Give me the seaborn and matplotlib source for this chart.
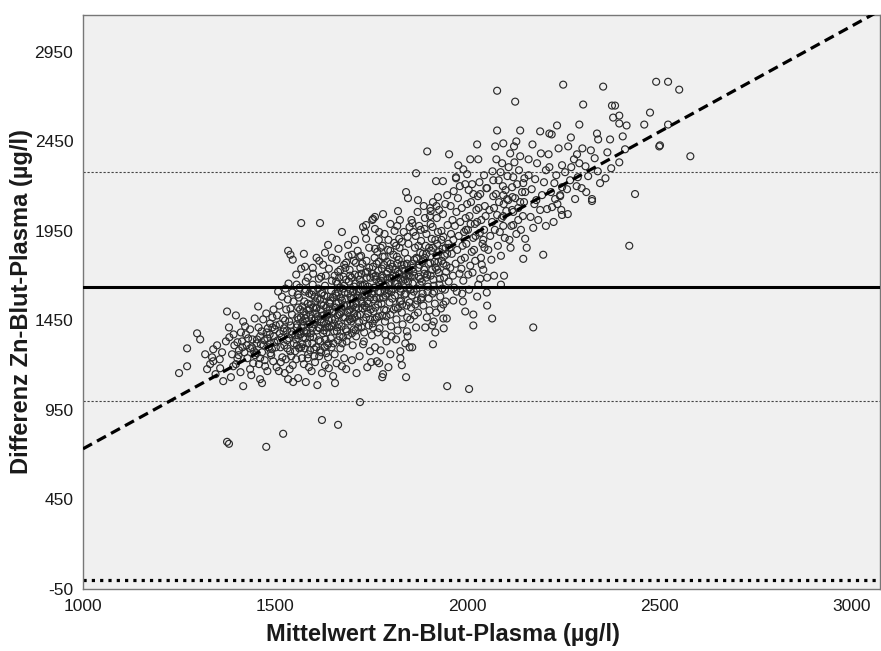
import numpy as np
import pandas as pd
import matplotlib
matplotlib.use("Agg")
import matplotlib.pyplot as plt
import seaborn as sns

# ---- data (mean, difference) ----
left_tail = [(1250,1156),(1271,1194),(1271,1294),(1297,1378),(1305,1344),(1323,1178),(1336,1244),(1339,1289),(1339,1222),(1331,1206),
 (1372,1333),(1375,1500),(1398,1478),(1388,1261),(1391,1194),(1398,1206),(1406,1283),(1414,1333),(1424,1372),(1422,1417),
 (1417,1444),(1365,1111),(1385,1133),(1417,1083),(1435,1178),(1435,1294),(1445,1278),(1435,1400),(1356,1233),(1362,1272),
 (1349,1311),(1318,1261),(1381,1356),(1394,1311),(1402,1239),(1410,1161),(1428,1239),(1441,1344),(1447,1461),(1426,1311),
 (1380,1411),(1357,1183),(1345,1150),(1392,1372),(1411,1383),(1443,1211),(1438,1144),(1420,1272),(1402,1328),(1448,1256)]

band_1450_1550 = [(1456,1528),(1477,1489),(1453,1344),(1461,1361),(1461,1239),(1474,1194),(1466,1272),(1461,1122),(1466,1100),(1487,1433),
 (1487,1322),(1495,1222),(1508,1611),(1534,1122),(1547,1106),(1457,1411),(1469,1456),(1478,1383),(1483,1300),(1490,1256),
 (1497,1361),(1502,1422),(1505,1478),(1511,1533),(1514,1300),(1519,1244),(1522,1389),(1526,1450),(1529,1511),(1533,1567),
 (1536,1350),(1539,1278),(1541,1422),(1544,1483),(1546,1200),(1549,1322),(1452,1267),(1463,1317),(1472,1339),(1481,1406),
 (1486,1372),(1493,1467),(1499,1400),(1504,1189),(1507,1339),(1512,1428),(1517,1356),(1521,1461),(1524,1311),(1528,1233),
 (1531,1394),(1537,1444),(1540,1517),(1543,1389),(1548,1556),(1518,1583),(1527,1628),(1535,1656),(1545,1606),(1496,1511),
 (1480,1167),(1510,1167),(1525,1156),(1542,1250),(1532,1294),(1473,1228),(1458,1206),(1492,1289),(1515,1217),(1538,1178)]

band_1550_1650 = [(1568,1994),(1617,1994),(1534,1839),(1540,1817),(1546,1789),(1575,1822),(1568,1739),(1578,1750),(1599,1711),(1615,1783),
 (1625,1761),(1638,1872),(1552,1278),(1554,1344),(1556,1411),(1558,1467),(1560,1522),(1562,1578),(1564,1633),(1566,1372),
 (1568,1300),(1570,1239),(1572,1444),(1574,1500),(1576,1556),(1578,1611),(1580,1667),(1582,1394),(1584,1322),(1586,1261),
 (1588,1189),(1590,1428),(1592,1483),(1594,1539),(1596,1594),(1598,1650),(1600,1356),(1602,1289),(1604,1217),(1606,1461),
 (1608,1517),(1610,1572),(1612,1628),(1614,1683),(1616,1406),(1618,1333),(1620,1272),(1622,1156),(1624,1478),(1626,1533),
 (1628,1589),(1630,1644),(1632,1700),(1634,1383),(1636,1311),(1638,1244),(1640,1450),(1642,1506),(1644,1561),(1646,1617),
 (1648,1672),(1553,1367),(1557,1311),(1561,1456),(1565,1511),(1569,1411),(1573,1356),(1577,1294),(1581,1483),(1585,1544),
 (1589,1600),(1593,1378),(1597,1322),(1601,1428),(1605,1489),(1609,1394),(1613,1339),(1617,1567),(1621,1439),(1625,1378),
 (1629,1300),(1633,1522),(1637,1583),(1641,1411),(1645,1350),(1649,1494),(1555,1233),(1559,1594),(1563,1389),(1567,1467),
 (1571,1528),(1575,1422),(1579,1350),(1583,1444),(1587,1506),(1591,1283),(1595,1461),(1599,1522),(1603,1583),(1607,1300),
 (1611,1472),(1615,1250),(1619,1511),(1623,1606),(1627,1439),(1631,1344),(1635,1478),(1639,1322),(1643,1544),(1647,1417),
 (1560,1128),(1580,1106),(1610,1089),(1640,1183),(1595,1167),(1575,1206),(1630,1200),(1651,1139),(1598,1744),(1640,1739),
 (1620,1694),(1585,1689),(1556,1650),(1648,1800),(1630,1828),(1608,1800),(1555,1706)]

band_1650_1750 = [(1652,1322),(1654,1389),(1656,1456),(1658,1522),(1660,1589),(1662,1656),(1664,1722),(1666,1428),(1668,1361),(1670,1294),
 (1672,1494),(1674,1561),(1676,1628),(1678,1694),(1680,1761),(1682,1467),(1684,1400),(1686,1333),(1688,1533),(1690,1600),
 (1692,1667),(1694,1733),(1696,1511),(1698,1444),(1700,1378),(1702,1311),(1704,1572),(1706,1639),(1708,1706),(1710,1772),
 (1712,1544),(1714,1478),(1716,1411),(1718,1611),(1720,1678),(1722,1744),(1724,1811),(1726,1583),(1728,1517),(1730,1450),
 (1732,1383),(1734,1650),(1736,1717),(1738,1783),(1740,1556),(1742,1489),(1744,1422),(1746,1622),(1748,1689),(1653,1500),
 (1657,1600),(1661,1389),(1665,1550),(1669,1633),(1673,1417),(1677,1356),(1681,1606),(1685,1678),(1689,1444),(1693,1506),
 (1697,1578),(1701,1461),(1705,1400),(1709,1522),(1713,1611),(1717,1700),(1721,1483),(1725,1556),(1729,1644),(1733,1533),
 (1737,1467),(1741,1600),(1745,1744),(1749,1511),(1655,1261),(1659,1667),(1663,1478),(1667,1689),(1671,1578),(1675,1322),
 (1679,1533),(1683,1744),(1687,1389),(1691,1811),(1695,1622),(1699,1689),(1703,1533),(1707,1467),(1711,1361),(1715,1589),
 (1719,1439),(1723,1622),(1727,1767),(1731,1333),(1735,1594),(1739,1689),(1743,1544),(1747,1456),(1674,1944),(1708,1900),
 (1734,1944),(1737,1983),(1737,1906),(1729,1972),(1674,1194),(1729,1317),(1747,1278),(1700,1228),(1720,1250),(1680,1239),
 (1665,1850),(1690,1872),(1715,1839),(1745,1856),(1660,1789),(1700,1817),(1750,1217),(1685,1178),(1712,1156),(1740,1189),
 (1660,1211)]

band_1750_1850 = [(1753,2011),(1760,2028),(1781,2044),(1771,1944),(1755,2017),(1781,1150),(1771,1211),(1841,1133),(1826,1239),(1839,1322),
 (1826,1278),(1820,2061),(1841,2167),(1846,2133),(1818,1978),(1800,1989),(1752,1367),(1754,1433),(1756,1500),(1758,1567),
 (1760,1633),(1762,1700),(1764,1767),(1766,1833),(1768,1539),(1770,1472),(1772,1406),(1774,1606),(1776,1672),(1778,1739),
 (1780,1806),(1782,1578),(1784,1511),(1786,1444),(1788,1644),(1790,1711),(1792,1778),(1794,1844),(1796,1617),(1798,1550),
 (1800,1483),(1802,1417),(1804,1683),(1806,1750),(1808,1817),(1810,1883),(1812,1589),(1814,1522),(1816,1456),(1818,1656),
 (1820,1722),(1822,1789),(1824,1856),(1826,1628),(1828,1561),(1830,1494),(1832,1428),(1834,1694),(1836,1761),(1838,1828),
 (1840,1600),(1842,1533),(1844,1467),(1846,1667),(1848,1733),(1753,1600),(1757,1694),(1761,1522),(1765,1467),(1769,1728),
 (1773,1650),(1777,1544),(1781,1689),(1785,1617),(1789,1506),(1793,1722),(1797,1661),(1801,1767),(1805,1572),(1809,1511),
 (1813,1733),(1817,1806),(1821,1639),(1825,1556),(1829,1761),(1833,1672),(1837,1594),(1841,1700),(1845,1794),(1849,1633),
 (1755,1411),(1759,1800),(1763,1578),(1767,1383),(1771,1661),(1775,1856),(1779,1478),(1783,1761),(1787,1372),(1791,1600),
 (1795,1900),(1799,1689),(1803,1361),(1807,1628),(1811,1950),(1815,1700),(1819,1394),(1823,1906),(1827,1683),(1831,1539),
 (1835,1944),(1839,1728),(1843,1389),(1847,1878),(1760,1300),(1790,1333),(1815,1344),(1845,1361),(1775,1283),(1800,1261),
 (1850,1300),(1830,1200),(1795,1189),(1765,1222),(1770,1900),(1785,1933),(1825,2011),(1850,1972),(1760,1961)]

band_1850_1950 = [(1857,1994),(1872,2122),(1867,2272),(1896,2394),(1919,2228),(1937,2228),(1924,2139),(1904,2078),(1948,2150),(1857,1300),
 (1911,1317),(1917,1383),(1909,1422),(1938,1461),(1947,1461),(1938,1539),(1852,1456),(1854,1522),(1856,1589),(1858,1656),
 (1860,1722),(1862,1789),(1864,1856),(1866,1922),(1868,1628),(1870,1561),(1872,1494),(1874,1694),(1876,1761),(1878,1828),
 (1880,1894),(1882,1667),(1884,1600),(1886,1533),(1888,1733),(1890,1800),(1892,1867),(1894,1933),(1896,1706),(1898,1639),
 (1900,1572),(1902,1506),(1904,1772),(1906,1839),(1908,1906),(1910,1972),(1912,1678),(1914,1611),(1916,1544),(1918,1744),
 (1920,1811),(1922,1878),(1924,1944),(1926,1717),(1928,1650),(1930,1583),(1932,1517),(1934,1783),(1936,1850),(1938,1917),
 (1940,1689),(1942,1622),(1944,1556),(1946,1756),(1948,1822),(1853,1694),(1857,1767),(1861,1611),(1865,1539),(1869,1794),
 (1873,1867),(1877,1650),(1881,1578),(1885,1822),(1889,1961),(1893,1689),(1897,1611),(1901,1856),(1905,1989),(1909,1733),
 (1913,1644),(1917,1900),(1921,2022),(1925,1778),(1929,1683),(1933,1950),(1937,2044),(1941,1811),(1945,1722),(1949,1983),
 (1855,2011),(1863,1478),(1871,2056),(1879,1956),(1887,2089),(1895,1467),(1903,2033),(1911,2111),(1919,1494),(1927,2067),
 (1935,1628),(1943,2100),(1951,1878),(1867,1411),(1891,1411),(1913,1444),(1939,1406)]

band_1950_2050 = [(1953,2378),(1977,2317),(1990,2294),(2000,2267),(2008,2350),(2029,2350),(2026,2433),(1971,2250),(1971,2244),(1995,2211),
 (2044,2261),(2016,2156),(1987,1600),(2026,1583),(1995,1500),(2016,1483),(2016,1422),(1964,1561),(2003,1706),(2034,1683),
 (2042,1733),(1952,1667),(1956,1744),(1960,1822),(1964,1900),(1968,1978),(1972,2056),(1976,2133),(1980,1711),(1984,1789),
 (1988,1867),(1992,1944),(1996,2022),(2000,2100),(2004,2178),(2008,1756),(2012,1833),(2016,1911),(2020,1989),(2024,2067),
 (2028,2144),(2032,2222),(2036,1800),(2040,1878),(2044,1956),(2048,2033),(1954,1856),(1958,1933),(1962,2011),(1966,1633),
 (1970,1767),(1974,1844),(1978,1922),(1982,2000),(1986,2078),(1990,1672),(1994,1800),(1998,1878),(2002,1956),(2006,2033),
 (2010,2111),(2014,1717),(2018,1844),(2022,1922),(2026,2000),(2030,2078),(2034,2156),(2038,1761),(2042,1900),(2046,2089),
 (2050,2189),(1957,2089),(1965,2172),(1973,1611),(1981,2200),(1989,1556),(1997,1956),(2005,1622),(2013,2211),(2021,1783),
 (2029,1650),(2037,2011),(2045,1856),(1963,1700),(1985,1739),(2009,1989),(2033,1939)]

band_2050_2150 = [(2052,1689),(2065,1461),(2052,1533),(2073,2422),(2094,2439),(2078,2511),(2078,2733),(2125,2672),(2128,2450),(2122,2422),
 (2138,2511),(2076,2350),(2091,2328),(2052,2189),(2068,2233),(2082,2233),(2094,2150),(2120,2250),(2117,2194),(2146,2217),
 (2104,2128),(2107,2122),(2117,2067),(2133,2011),(2094,2033),(2094,1978),(2120,1983),(2096,1700),(2146,1794),(2138,2111),
 (2051,1606),(2070,1700),(2088,1650),(2055,1844),(2060,1922),(2065,2000),(2070,2078),(2075,2156),(2080,1867),(2085,1944),
 (2090,2022),(2095,2100),(2100,2178),(2105,2256),(2110,1900),(2115,1978),(2120,2056),(2125,2133),(2130,2211),(2135,2289),
 (2140,1956),(2145,2033),(2148,2111),(2058,2067),(2063,1789),(2068,2144),(2072,1956),(2078,2039),(2083,2111),(2088,1811),
 (2093,2200),(2098,1911),(2102,2061),(2108,2306),(2113,1856),(2118,2139),(2123,2333),(2128,1933),(2133,2078),(2138,2367),
 (2143,2167),(2149,2244),(2087,2278),(2112,2383),(2066,2283)]

band_2150_2350 = [(2151,1906),(2172,1967),(2172,1411),(2198,1817),(2190,2067),(2208,2072),(2221,2083),(2229,2128),(2242,2144),(2247,2039),
 (2190,2506),(2214,2494),(2220,2489),(2234,2539),(2214,2306),(2182,2328),(2177,2239),(2227,2217),(2247,2194),(2242,2150),
 (2151,2167),(2247,2317),(2250,2767),(2160,2261),(2168,2183),(2175,2100),(2185,2011),(2195,2150),(2200,2222),(2205,2289),
 (2212,2378),(2218,2167),(2225,2000),(2232,2261),(2238,2411),(2160,2350),(2170,2433),(2180,2122),(2192,2383),(2205,1978),
 (2165,2028),(2155,1856),(2245,2067),(2235,2100),(2263,2422),(2292,2544),(2302,2656),(2286,2378),(2292,2328),(2271,2306),
 (2260,2183),(2281,2128),(2325,2128),(2338,2494),(2341,2461),(2325,2117),(2346,2217),(2354,2756),(2255,2278),(2268,2233),
 (2278,2350),(2288,2250),(2298,2189),(2308,2311),(2315,2256),(2322,2400),(2332,2356),(2340,2283),(2310,2167),(2270,2472),
 (2300,2411),(2285,2200),(2262,2044)]

upper_right = [(2372,2461),(2377,2650),(2385,2650),(2380,2583),(2396,2594),(2396,2550),(2396,2333),(2411,2406),(2437,2156),(2422,1867),
 (2461,2544),(2476,2611),(2492,2783),(2523,2783),(2552,2739),(2502,2428),(2581,2367),(2523,2544),(2500,2422),(2360,2244),
 (2365,2389),(2405,2478),(2415,2539),(2375,2300)]

core_dense = [(1512,1378),(1523,1406),(1531,1339),(1544,1372),(1557,1428),(1563,1294),(1571,1317),(1579,1461),(1583,1378),(1591,1356),
 (1597,1406),(1603,1450),(1607,1522),(1613,1411),(1619,1456),(1627,1394),(1633,1433),(1637,1489),(1641,1550),(1648,1456),
 (1653,1433),(1659,1544),(1662,1411),(1668,1483),(1673,1522),(1677,1467),(1683,1572),(1688,1494),(1694,1456),(1697,1533),
 (1703,1611),(1706,1489),(1712,1578),(1717,1517),(1722,1650),(1727,1544),(1733,1589),(1738,1522),(1742,1639),(1748,1578),
 (1752,1711),(1757,1633),(1763,1678),(1768,1611),(1772,1572),(1778,1700),(1783,1644),(1787,1589),(1792,1683),(1798,1739),
 (1803,1611),(1807,1700),(1812,1656),(1818,1767),(1823,1711),(1827,1611),(1832,1739),(1838,1678),(1843,1767),(1848,1700),
 (1853,1622),(1858,1744),(1862,1700),(1868,1800),(1873,1744),(1878,1683),(1883,1778),(1889,1711),(1894,1822),(1899,1767),
 (1905,1700),(1911,1856),(1915,1778),(1922,1733),(1927,1833),(1933,1900),(1938,1767),(1944,1856),(1480,1350),(1470,1311),
 (1493,1411),(1488,1267),(1502,1300),(1498,1328),(1465,1389),(1452,1322),(1440,1300),(1430,1350),(1415,1300),(1405,1256),
 (1585,1239),(1602,1250),(1617,1283),(1633,1267),(1647,1300),(1664,1339),(1690,1367),(1710,1394),(1725,1411),(1760,1456),
 (1790,1472),(1820,1517),(1850,1550),(1880,1567),(1910,1600),(1560,1367),(1575,1389),(1590,1517),(1605,1556),(1620,1539),
 (1635,1411),(1650,1578),(1665,1606),(1680,1644),(1695,1700),(1710,1656),(1725,1711),(1740,1722),(1755,1750),(1770,1778),
 (1785,1806),(1800,1839),(1815,1867),(1830,1889),(1845,1917),(1860,1944),(1875,1978),(1890,2022),(1905,2061),(1920,2089),
 (1580,1622),(1600,1611),(1620,1600),(1655,1700),(1670,1733),(1685,1772),(1705,1783),(1720,1806),(1760,1850),(1780,1867)]

low_outliers = [(1375,772),(1380,761),(1477,744),(1521,817),(1622,894),(1664,867),(1721,994),(1656,1100),(1779,1133),(1948,1083),(2005,1067)]

mean_diff = 1639
loa_upper = 2278
loa_lower = 1000
zero_line = 0
reg_intercept = -447
reg_slope = 1.18

x_ticks = [1000, 1500, 2000, 2500, 3000]
y_ticks = [-50, 450, 950, 1450, 1950, 2450, 2950]
x_label = "Mittelwert Zn-Blut-Plasma (µg/l)"
y_label = "Differenz Zn-Blut-Plasma (µg/l)"

groups = [left_tail, band_1450_1550, band_1550_1650, band_1650_1750, band_1750_1850,
          band_1850_1950, band_1950_2050, band_2050_2150, band_2150_2350, upper_right,
          core_dense, low_outliers]
pts = [p for g in groups for p in g]
df = pd.DataFrame(pts, columns=["mittelwert", "differenz"])

# ---- drawing ----
sns.set_style("white")
plt.rcParams["font.family"] = ["Liberation Sans", "DejaVu Sans"]
plt.rcParams["axes.unicode_minus"] = False

fig = plt.figure(figsize=(8.81, 6.51), dpi=100)
ax = fig.add_axes([83/881, 1 - 589/651, 1 - 83/881 - 0.001, (589 - 15)/651])
ax.set_facecolor("#f0f0f0")

xlim = (1000, 3075)
ylim = (-50, 3156)

ax.axhline(zero_line, color="black", lw=2.3, linestyle=(0, (1, 1.6)), zorder=2)
ax.axhline(loa_upper, color="#444444", lw=0.8, linestyle=(0, (2, 1.6)), zorder=2)
ax.axhline(loa_lower, color="#444444", lw=0.8, linestyle=(0, (2, 1.6)), zorder=2)
ax.axhline(mean_diff, color="black", lw=2.2, zorder=4)

sns.scatterplot(data=df, x="mittelwert", y="differenz", ax=ax, marker="o",
                s=25, facecolor="none", edgecolor="#2b2b2b", linewidth=0.85, zorder=3)

xr = np.array(xlim, dtype=float)
sns.lineplot(x=xr, y=reg_intercept + reg_slope * xr, ax=ax, color="black",
             lw=2.3, linestyle=(0, (3.2, 1.8)), zorder=5)

ax.set_xlim(*xlim)
ax.set_ylim(*ylim)
ax.set_xticks(x_ticks)
ax.set_yticks(y_ticks)
ax.tick_params(axis="both", direction="out", length=5, width=1, color="#666666",
               labelsize=12.5, labelcolor="#1a1a1a", pad=2)
for s in ax.spines.values():
    s.set_color("#777777")
    s.set_linewidth(1.0)
    s.set_visible(True)

ax.set_xlabel(x_label, fontsize=17, fontweight="bold", color="#1a1a1a")
ax.set_ylabel(y_label, fontsize=17, fontweight="bold", color="#1a1a1a")
ax.xaxis.set_label_coords(0.452, -0.060)
ax.yaxis.set_label_coords(-0.063, 0.5)

fig.savefig("out.png", dpi=100, facecolor="white")
